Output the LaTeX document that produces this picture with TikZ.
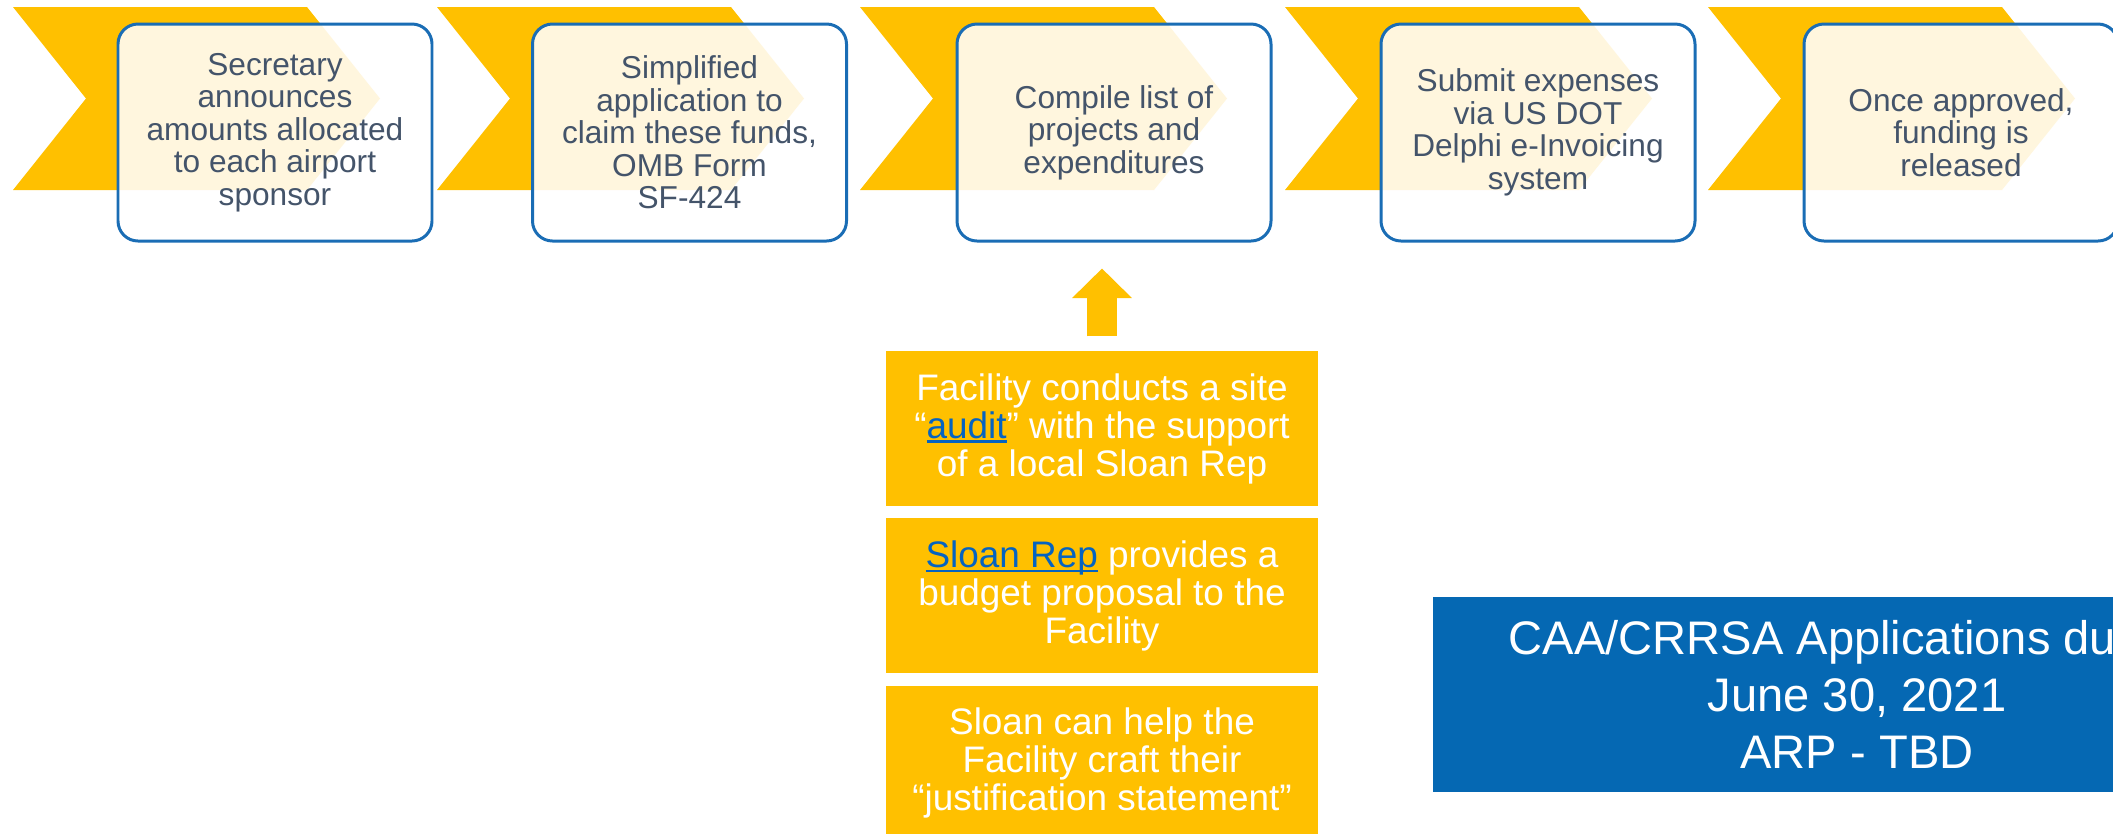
\documentclass[tikz,border=0pt]{standalone}
\usepackage{fontspec}
\setmainfont{Liberation Sans}
\usetikzlibrary{positioning,arrows.meta}
\definecolor{chevyellow}{HTML}{FFC000}
\definecolor{stepline}{HTML}{1A6DB5}
\definecolor{steptext}{HTML}{44546A}
\definecolor{notebg}{HTML}{0568B3}
\definecolor{linkblue}{HTML}{0563C1}
\newlength{\lnkw}
\newcommand{\lnk}[1]{\settowidth{\lnkw}{#1}\textcolor{linkblue}{\rlap{\rule[-0.13em]{\lnkw}{0.07em}}#1}}

\begin{document}
\begin{tikzpicture}[
  stepbox/.style={draw=stepline,line width=0.85pt,rounded corners=0.2cm,fill=white,fill opacity=0.87,text opacity=1,text=steptext,minimum width=3.14cm,minimum height=2.17cm,inner sep=0pt,align=center,font=\fontsize{9}{9.25}\selectfont},
  helpbox/.style={fill=chevyellow,text=white,minimum width=4.32cm,minimum height=1.55cm,inner sep=0pt,align=center,font=\fontsize{10.5}{10.8}\selectfont},
  duebox/.style={fill=notebg,text=white,minimum width=8.48cm,minimum height=1.95cm,inner sep=0pt,align=center,font=\fontsize{13.4}{16.2}\selectfont}]
\useasboundingbox (0,0) rectangle (21.13,-8.33);
\clip (0,0) rectangle (21.13,-8.33);
\pgfmathsetmacro{\chevw}{2.94}
\pgfmathsetmacro{\chevh}{1.83}
\pgfmathsetmacro{\chevd}{0.73}
\foreach \x in {0.13,4.37,8.60,12.85,17.08}
  \fill[chevyellow] (\x,-0.07) -- ++(\chevw,0) -- ++(\chevd,-\chevh/2) -- ++(-\chevd,-\chevh/2) -- ++(-\chevw,0) -- ++(\chevd,\chevh/2) -- cycle;
\node[stepbox] (announce) at (2.75,-1.325) {Secretary\\announces\\amounts allocated\\to each airport\\sponsor};
\node[stepbox] (apply) at (6.895,-1.325) {Simplified\\application to\\claim these funds,\\OMB Form\\SF-424};
\node[stepbox] (compile) at (11.14,-1.325) {Compile list of\\projects and\\expenditures};
\node[stepbox] (submit) at (15.38,-1.325) {Submit expenses\\via US DOT\\Delphi e-Invoicing\\system};
\node[stepbox] (release) at (19.61,-1.325) {Once approved,\\funding is\\released};
\node[helpbox] (audit) at (11.02,-4.285) {Facility conducts a site\\“\lnk{audit}” with the support\\of a local Sloan Rep};
\node[helpbox,below=0.11cm of audit] (budget) {\lnk{Sloan Rep} provides a\\budget proposal to the\\Facility};
\node[helpbox,below=0.11cm of budget] (justify) {Sloan can help the\\Facility craft their\\“justification statement”};
\draw[chevyellow,line width=0.3cm,-{Triangle[width=0.58cm,length=0.295cm]}] ([yshift=0.14cm]audit.north) -- ([yshift=-0.26cm]audit.north |- compile.south);
\node[duebox] (due) at (18.57,-6.945) {CAA/CRRSA Applications du\phantom{e by}\\June 30, 2021\\ARP - TBD};
\end{tikzpicture}
\end{document}
